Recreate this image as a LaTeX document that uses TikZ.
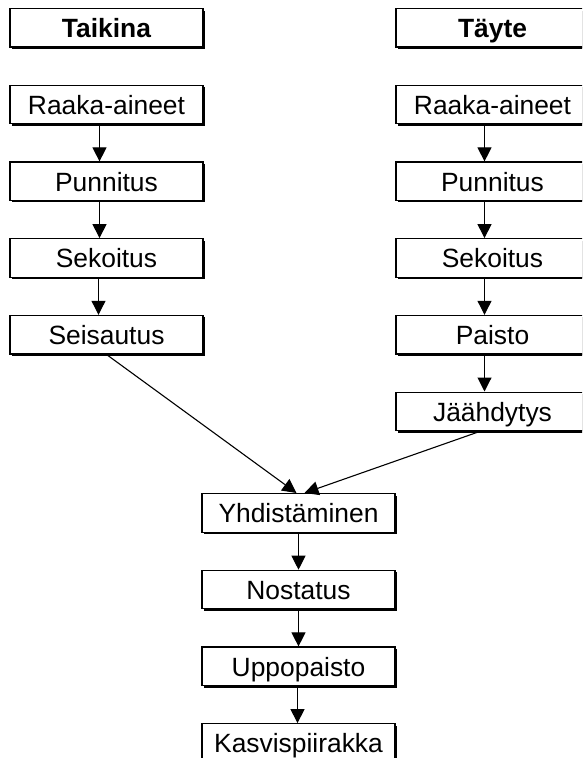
\documentclass[tikz,border=0pt]{standalone}
\usepackage{fontspec}
\setmainfont{Liberation Sans}
\usetikzlibrary{positioning,shadows,arrows.meta}

\begin{document}
\begin{tikzpicture}[x=0.5pt,y=-0.5pt,
box/.style={draw,rectangle,fill=white,line width=0.6pt,
    minimum width=96.5pt,minimum height=19.25pt,inner sep=0pt,
    text height=11.2pt,text depth=1.4pt,
    font=\fontsize{13.2}{15.8}\selectfont,
    general shadow={fill=black,shadow xshift=1pt,shadow yshift=-1pt}},
head/.style={box,font=\fontsize{13.2}{15.8}\selectfont\bfseries},
arr/.style={line width=0.55pt,-{Triangle[width=7pt,length=7pt]}},
node distance=18.5pt]
\useasboundingbox (0,0) rectangle (582,758);
\clip (0,0) rectangle (582,758);

% dough
\node (taikina) [head,anchor=north] at (106.5,8) {Taikina};
\node (raaka1) [box,below=of taikina] {Raaka-aineet};
\node (punn1) [box,below=of raaka1] {Punnitus};
\node (sek1) [box,below=of punn1] {Sekoitus};
\node (seis) [box,below=of sek1] {Seisautus};

% filling
\node (tayte) [head,anchor=north] at (492.5,8) {Täyte};
\node (raaka2) [box,below=of tayte] {Raaka-aineet};
\node (punn2) [box,below=of raaka2] {Punnitus};
\node (sek2) [box,below=of punn2] {Sekoitus};
\node (paisto) [box,below=of sek2] {Paisto};
\node (jaahd) [box,below=of paisto] {Jäähdytys};

% together
\node (yhd) [box,anchor=north] at (298.5,493) {Yhdistäminen};
\node (nost) [box,below=of yhd] {Nostatus};
\node (uppo) [box,below=of nost] {Uppopaisto};
\node (kasvis) [box,below=of uppo] {Kasvispiirakka};

\draw [arr] ([xshift=-3.5pt]raaka1.south) -- ([xshift=-3.5pt]punn1.north);
\draw [arr] ([xshift=-3.5pt]punn1.south) -- ([xshift=-3.5pt]sek1.north);
\draw [arr] ([xshift=-4pt]sek1.south) -- ([xshift=-4pt]seis.north);

\draw [arr] ([xshift=-4pt]raaka2.south) -- ([xshift=-4pt]punn2.north);
\draw [arr] ([xshift=-4pt]punn2.south) -- ([xshift=-4pt]sek2.north);
\draw [arr] ([xshift=-4pt]sek2.south) -- ([xshift=-4pt]paisto.north);
\draw [arr] ([xshift=-4pt]paisto.south) -- ([xshift=-4pt]jaahd.north);

\draw [arr] (seis.south) -- ([xshift=-1pt]yhd.north);
\draw [arr] ([xshift=-6pt]jaahd.south) -- ([xshift=3pt]yhd.north);

\draw [arr] (yhd) -- (nost);
\draw [arr] (nost) -- (uppo);
\draw [arr] ([xshift=-0.5pt]uppo.south) -- ([xshift=-0.5pt]kasvis.north);
\end{tikzpicture}
\end{document}
